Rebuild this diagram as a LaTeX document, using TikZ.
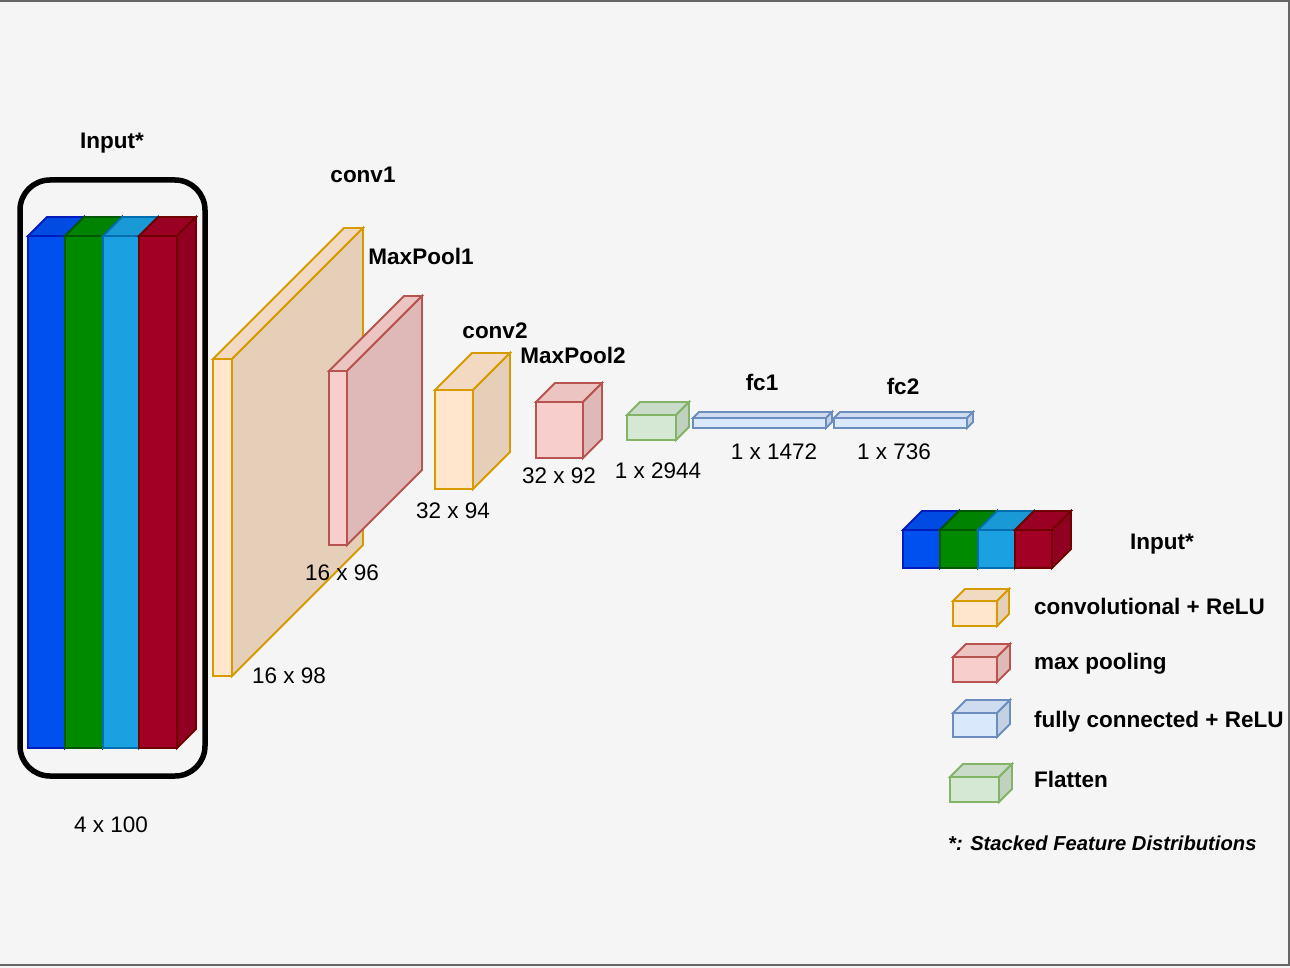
\documentclass[tikz,border=0pt]{standalone}
\usepackage{fontspec}
\setmainfont{Liberation Sans}
\definecolor{bgc}{HTML}{F5F5F5}
\definecolor{framec}{HTML}{666666}
\definecolor{convF}{HTML}{FFE6CC}\definecolor{convS}{HTML}{D79B00}
\definecolor{poolF}{HTML}{F8CECC}\definecolor{poolS}{HTML}{B85450}
\definecolor{fcF}{HTML}{DAE8FC}\definecolor{fcS}{HTML}{6C8EBF}
\definecolor{flatF}{HTML}{D5E8D4}\definecolor{flatS}{HTML}{82B366}
\definecolor{blueF}{HTML}{0050EF}\definecolor{blueS}{HTML}{001DBC}
\definecolor{greenF}{HTML}{008A00}\definecolor{greenS}{HTML}{005700}
\definecolor{cyanF}{HTML}{1BA1E2}\definecolor{cyanS}{HTML}{006EAF}
\definecolor{redF}{HTML}{A20025}\definecolor{redS}{HTML}{6F0000}
% #1 x, #2 y (front top-left), #3 w, #4 h, #5 depth, #6 fill, #7 stroke
\newcommand{\mycube}[7]{%
  \draw[draw=#7,line width=1.8,line join=miter,fill=#6] (#1,#2) rectangle ++(#3,#4);
  \draw[draw=#7,line width=1.8,line join=miter,fill=#6!95!black] (#1,#2) -- ++(#5,-#5) -- ++(#3,0) -- ++(-#5,#5) -- cycle;
  \draw[draw=#7,line width=1.8,line join=miter,fill=#6!90!black] (#1+#3,#2) -- ++(#5,-#5) -- ++(0,#4) -- ++(-#5,#5) -- cycle;
}
\tikzset{
  lbl/.style={font=\fontsize{22.5}{27}\selectfont,inner sep=0pt,anchor=base},
  blbl/.style={lbl,font=\fontsize{22.5}{27}\selectfont\bfseries},
  leg/.style={blbl,anchor=base west},
}
\begin{document}
\begin{tikzpicture}[x=1pt,y=-1pt]
\fill[bgc] (0,0) rectangle (1290,968);
\useasboundingbox (0,0) rectangle (1290,968);
\draw[framec,line width=2] (0,1) -- (1288.5,1) -- (1288.5,965) -- (0,965);
% input stack
\draw[black,line width=5.5,rounded corners=30] (20,180) rectangle (205,776);
\mycube{28}{236}{37}{512}{19}{blueF}{blueS}
\mycube{65}{236}{38}{512}{19}{greenF}{greenS}
\mycube{103}{236}{36}{512}{19}{cyanF}{cyanS}
\mycube{139}{236}{38}{512}{19}{redF}{redS}
% layers
\mycube{213}{359}{19}{317}{131}{convF}{convS}
\mycube{329}{371}{18}{174}{75}{poolF}{poolS}
\mycube{435}{390}{38}{99}{37}{convF}{convS}
\mycube{536}{402}{47}{56}{19}{poolF}{poolS}
\mycube{627}{415}{49}{25}{13}{flatF}{flatS}
\mycube{693}{418}{133}{10}{6}{fcF}{fcS}
\mycube{834}{418}{133}{10}{6}{fcF}{fcS}
% legend
\mycube{903}{530}{37}{38}{19}{blueF}{blueS}
\mycube{940}{530}{38}{38}{19}{greenF}{greenS}
\mycube{978}{530}{37}{38}{19}{cyanF}{cyanS}
\mycube{1015}{530}{37}{38}{19}{redF}{redS}
\mycube{953}{601}{44}{25}{12}{convF}{convS}
\mycube{953}{657}{44}{25}{13}{poolF}{poolS}
\mycube{953}{713}{44}{24}{13}{fcF}{fcS}
\mycube{950}{777}{49}{25}{13}{flatF}{flatS}
% labels
\node[blbl] (tin) at (112,149) {Input*};
\node[blbl] (tc1) at (363,183) {conv1};
\node[blbl] (tp1) at (421,265) {MaxPool1};
\node[blbl] (tc2) at (495,338) {conv2};
\node[blbl] (tp2) at (573,363) {MaxPool2};
\node[blbl] (tf1) at (762,390) {fc1};
\node[blbl] (tf2) at (903,394) {fc2};
\node[lbl] (s1) at (289,683) {16 x 98};
\node[lbl] (s2) at (342,580) {16 x 96};
\node[lbl] (s3) at (453,518) {32 x 94};
\node[lbl] (s4) at (559,483) {32 x 92};
\node[lbl] (s5) at (658,478) {1 x 2944};
\node[lbl] (s6) at (774,459) {1 x 1472};
\node[lbl] (s7) at (894,459) {1 x 736};
\node[lbl] (s0) at (111,832) {4 x 100};
\node[blbl] (lin) at (1162,549) {Input*};
\node[leg] (l1) at (1034,614) {convolutional + ReLU};
\node[leg] (l2) at (1034,669) {max pooling};
\node[leg] (l3) at (1034,727) {fully connected + ReLU};
\node[leg] (l4) at (1034,787) {Flatten};
\node[leg,font=\fontsize{20.2}{24}\selectfont\bfseries\itshape] (l5) at (948,850) {*: Stacked Feature Distributions};
\end{tikzpicture}
\end{document}
